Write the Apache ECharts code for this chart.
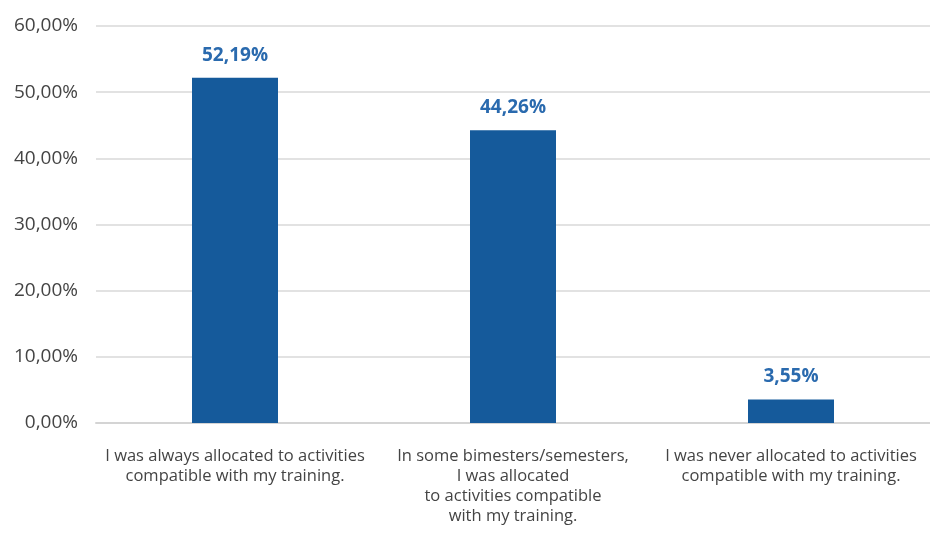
<!DOCTYPE html>
<html>
<head>
<meta charset="utf-8">
<script src="https://cdn.jsdelivr.net/npm/echarts@6/dist/echarts.min.js"></script>
<style>
  html, body { margin: 0; padding: 0; background: #fff; }
  #chart { width: 930px; height: 560px; }
</style>
</head>
<body>
<div id="chart"></div>
<script>
const categories = [
  'I was always allocated to activities\ncompatible with my training.',
  'In some bimesters/semesters,\nI was allocated\nto activities compatible\nwith my training.',
  'I was never allocated to activities\ncompatible with my training.'
];
const values = [52.19, 44.26, 3.55];

// 52.19 -> "52,19%"
function pct(v) {
  return v.toFixed(2).replace('.', ',') + '%';
}

let chart = echarts.init(document.getElementById('chart'));
chart.setOption({
  animation: false,
  grid: { left: 96, right: -4, top: 26, bottom: 137 },
  xAxis: {
    type: 'category',
    data: categories,
    axisLine: { lineStyle: { color: '#d4d4d4', width: 2 } },
    axisTick: { show: false },
    axisLabel: {
      margin: 23,
      color: '#444',
      fontFamily: 'Open Sans, sans-serif',
      fontSize: 16.5,
      lineHeight: 20,
      interval: 0
    }
  },
  yAxis: {
    type: 'value',
    min: 0,
    max: 60,
    interval: 10,
    axisLabel: {
      color: '#444',
      fontFamily: 'Open Sans, sans-serif',
      fontSize: 19,
      margin: 18,
      formatter: pct
    },
    splitLine: { lineStyle: { color: '#d9d9d9', width: 1.5 } }
  },
  series: [{
    type: 'bar',
    data: values,
    barWidth: 86,
    itemStyle: { color: '#155a9b' },
    label: {
      show: true,
      position: 'top',
      distance: 13,
      color: '#2a6aae',
      fontFamily: 'Open Sans, sans-serif',
      fontWeight: 'bold',
      fontSize: 19,
      formatter: p => pct(p.value)
    }
  }]
});
</script>
</body>
</html>
